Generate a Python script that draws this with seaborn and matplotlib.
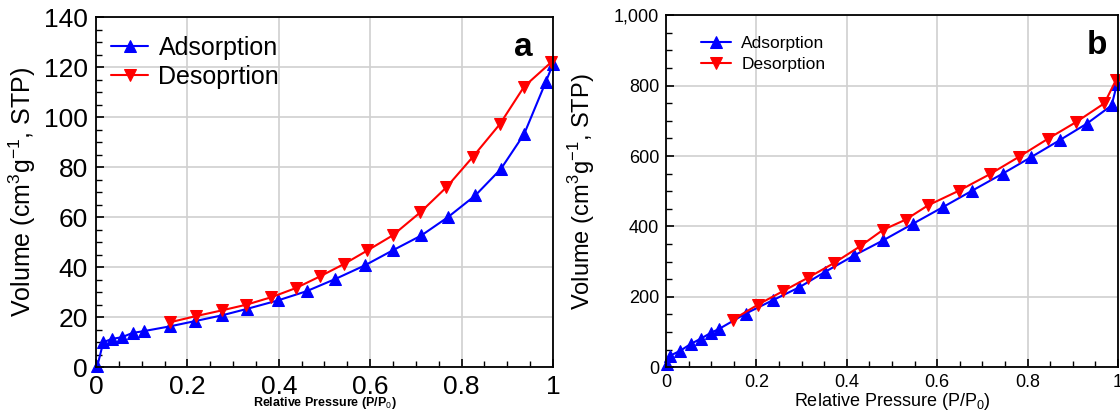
import numpy as np
import pandas as pd
import seaborn as sns
import matplotlib.pyplot as plt
from matplotlib.ticker import MultipleLocator, FuncFormatter

# panel a - isotherm values
a_ads_p = [0.003, 0.016, 0.035, 0.057, 0.08, 0.104, 0.161, 0.216, 0.275, 0.33, 0.398,
           0.461, 0.524, 0.588, 0.649, 0.712, 0.77, 0.83, 0.886, 0.937, 0.984, 1.0]
a_ads_v = [0.5, 10, 11.3, 12, 13.7, 14.4, 16.3, 18.4, 20.7, 23.3, 26.7,
           30.4, 35.3, 40.7, 46.7, 52.7, 60, 68.7, 79.3, 93.3, 114, 121.3]
a_des_p = [0.996, 0.937, 0.884, 0.824, 0.767, 0.71, 0.649, 0.594, 0.543, 0.49, 0.438,
           0.384, 0.329, 0.275, 0.218, 0.163]
a_des_v = [122, 112.3, 97.3, 84, 72, 62, 52.7, 46.7, 41.3, 36.3, 31.7,
           28, 25, 22.7, 20.4, 18]

# panel b
b_ads_p = [0.002, 0.01, 0.032, 0.055, 0.077, 0.1, 0.118, 0.176, 0.236, 0.295, 0.351,
           0.417, 0.48, 0.547, 0.613, 0.678, 0.745, 0.808, 0.871, 0.931, 0.986, 0.998]
b_ads_v = [10, 33, 47, 66, 81, 98, 109, 152, 190, 227, 270,
           318, 360, 408, 455, 502, 550, 597, 645, 692, 744, 806]
b_des_p = [0.996, 0.97, 0.908, 0.845, 0.78, 0.716, 0.649, 0.58, 0.53, 0.48, 0.429,
           0.372, 0.314, 0.259, 0.204, 0.148]
b_des_v = [817, 750, 697, 649, 597, 548, 502, 460, 419, 390, 343,
           296, 254, 216, 178, 135]

sns.set_style('white')
plt.rcParams['font.family'] = ['Liberation Sans', 'DejaVu Sans']
plt.rcParams['mathtext.fontset'] = 'custom'
plt.rcParams['mathtext.rm'] = 'Liberation Sans'
plt.rcParams['text.color'] = 'black'
plt.rcParams['axes.labelcolor'] = 'black'

fig = plt.figure(figsize=(11.2, 4.13), dpi=100)
ax1 = fig.add_axes([0.0857, 0.111, 0.408, 0.847])
ax2 = fig.add_axes([0.5946, 0.111, 0.4036, 0.852])


def draw(ax, ads_p, ads_v, des_p, des_v, des_label, ms):
    sns.lineplot(x=ads_p, y=ads_v, ax=ax, color='blue', marker='^', markersize=ms,
                 markeredgecolor='blue', linewidth=1.5, sort=False, estimator=None,
                 label='Adsorption', clip_on=False)
    sns.lineplot(x=des_p, y=des_v, ax=ax, color='red', marker='v', markersize=ms,
                 markeredgecolor='red', linewidth=1.5, sort=False, estimator=None,
                 label=des_label, clip_on=False)
    ax.set_xlim(0, 1)
    ax.xaxis.set_major_locator(MultipleLocator(0.2))
    ax.xaxis.set_minor_locator(MultipleLocator(0.05))
    ax.grid(True, which='major', color='#d0d0d0', linewidth=1.2)
    ax.set_axisbelow(True)
    for s in ax.spines.values():
        s.set_color('black')
        s.set_linewidth(1.3)
    ax.tick_params(which='both', direction='in', left=True, bottom=True, colors='black')
    ax.tick_params(which='major', length=6, width=1.2)
    ax.tick_params(which='minor', length=4, width=1.0)


def xfmt_fn(v, p):
    v = round(v, 2)
    if v == 0:
        return '0'
    if v == 1:
        return '1'
    return f'{v:.1f}'


xfmt = FuncFormatter(xfmt_fn)

# panel a
draw(ax1, a_ads_p, a_ads_v, a_des_p, a_des_v, 'Desoprtion', 9)
ax1.set_ylim(0, 140)
ax1.yaxis.set_major_locator(MultipleLocator(20))
ax1.yaxis.set_minor_locator(MultipleLocator(5))
ax1.xaxis.set_major_formatter(xfmt)
ax1.tick_params(which='major', labelsize=19, pad=6)
ax1.set_ylabel('Volume (cm$^3$g$^{-1}$, STP)', fontsize=18, labelpad=4)
ax1.set_xlabel('Relative Pressure (P/P$_0$)', fontsize=9, fontweight='bold', labelpad=-3)
ax1.legend(loc='upper left', frameon=False, fontsize=18, handlelength=1.5,
           handletextpad=0.4, borderaxespad=0.2, labelspacing=0.2,
           bbox_to_anchor=(0.0, 0.99))
ax1.text(0.955, 0.915, 'a', transform=ax1.transAxes, fontsize=24, fontweight='bold',
         ha='right', va='center')

# panel b
draw(ax2, b_ads_p, b_ads_v, b_des_p, b_des_v, 'Desorption', 8)
ax2.set_ylim(0, 1000)
ax2.yaxis.set_major_locator(MultipleLocator(200))
ax2.yaxis.set_minor_locator(MultipleLocator(50))
ax2.yaxis.set_major_formatter(FuncFormatter(lambda v, p: f'{int(round(v)):,}'))
ax2.xaxis.set_major_formatter(xfmt)
ax2.tick_params(which='major', labelsize=13, pad=5)
ax2.set_ylabel('Volume (cm$^3$g$^{-1}$, STP)', fontsize=17, labelpad=12)
ax2.set_xlabel('Relative Pressure (P/P$_0$)', fontsize=13, labelpad=0)
ax2.legend(loc='upper left', frameon=False, fontsize=12.5, handlelength=1.7,
           handletextpad=0.6, borderaxespad=0.2, labelspacing=0.3,
           bbox_to_anchor=(0.055, 0.97))
ax2.text(0.975, 0.915, 'b', transform=ax2.transAxes, fontsize=24, fontweight='bold',
         ha='right', va='center')

fig.savefig('out.png', dpi=100)
